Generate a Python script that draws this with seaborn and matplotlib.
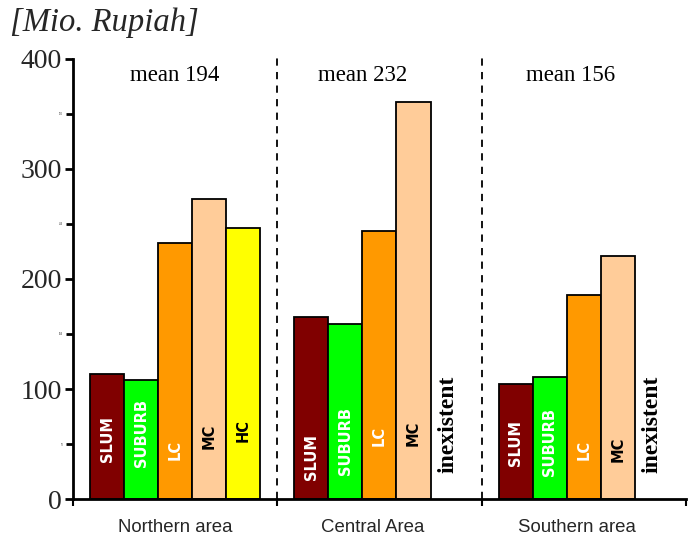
import numpy as np
import pandas as pd
import matplotlib
matplotlib.use("Agg")
import matplotlib.pyplot as plt
import seaborn as sns
from matplotlib.ticker import MultipleLocator

# Housing price by area and settlement class [Mio. Rupiah]
areas = ["Northern area", "Central Area", "Southern area"]
classes = ["SLUM", "SUBURB", "LC", "MC", "HC"]
northern = [114, 108, 233, 273, 246]
central = [165, 159, 244, 361]
southern = [105, 111, 185, 221]
means = [194, 232, 156]

colors = {"SLUM": "#800000", "SUBURB": "#00ff00", "LC": "#ff9900",
          "MC": "#ffcc99", "HC": "#ffff00"}
text_colors = {"SLUM": "white", "SUBURB": "white", "LC": "white",
               "MC": "black", "HC": "black"}

# vertical placement of the class names inside the bars
label_heights = [[55, 60, 45, 57, 62],
                 [38, 53, 57, 60],
                 [51, 52, 45, 45]]

group_vals = [northern, central, southern]
rows = []
for g, vals in enumerate(group_vals):
    for i, v in enumerate(vals):
        rows.append({"pos": g * 6 + 1 + i, "value": v, "cls": classes[i],
                     "area": areas[g], "label_y": label_heights[g][i]})
df = pd.DataFrame(rows)

sns.set_theme(style="white")
plt.rcParams["font.family"] = ["Liberation Serif", "DejaVu Sans"]

fig = plt.figure(figsize=(6.93, 5.36), dpi=100)
ax = fig.add_axes([0.1053, 0.069, 0.8845, 0.821])

sns.barplot(data=df, x="pos", y="value", hue="cls", palette=colors,
            native_scale=True, dodge=False, width=1.0, edgecolor="black",
            linewidth=1.3, legend=False, ax=ax, saturation=1)

ax.set_xlim(0, 18)
ax.set_ylim(0, 400)

for _, r in df.iterrows():
    ax.text(r["pos"], r["label_y"], r["cls"], rotation=90, ha="center", va="center",
            color=text_colors[r["cls"]], fontsize=10.5, fontweight="heavy",
            family="DejaVu Sans")

# areas without a high class
for g, vals in enumerate(group_vals):
    if len(vals) < 5:
        ax.text(g * 6 + 5, 68, "inexistent", rotation=90, ha="center", va="center",
                fontsize=17, fontweight="bold", color="black")

# group means
mean_x = [3, 8.5, 14.6]
for x, m in zip(mean_x, means):
    ax.text(x, 385, f"mean {m}", ha="center", va="center", fontsize=16.5, color="black")

# group separators
for x in [6, 12]:
    ax.plot([x, x], [0, 405], ls=(0, (4, 3.5)), color="black", lw=1.3, clip_on=False)

# axes styling
for s in ["top", "right"]:
    ax.spines[s].set_visible(False)
for s in ["left", "bottom"]:
    ax.spines[s].set_color("black")
    ax.spines[s].set_linewidth(2)

ax.set_yticks([0, 100, 200, 300, 400])
ax.set_yticklabels(["0", "100", "200", "300", "400"], fontsize=20)
ax.set_yticks([50, 150, 250, 350], minor=True)
ax.set_yticklabels(["50", "150", "250", "350"], minor=True, fontsize=2)
ax.tick_params(axis="y", which="major", direction="out", length=6, width=2, color="black", pad=2, left=True)
ax.tick_params(axis="y", which="minor", direction="out", length=5, width=2, color="black", pad=2, left=True)

ax.set_xticks([0, 6, 12, 18])
ax.set_xticklabels([])
ax.tick_params(axis="x", which="major", direction="out", length=5, width=1.5, color="black", bottom=True)
ax.set_xlabel("")
ax.set_ylabel("")

for x, name in zip([3, 8.8, 14.8], areas):
    ax.text(x, -26, name, ha="center", va="center", fontsize=13.4,
            family="Liberation Sans")

fig.text(0.015, 0.957, "[Mio. Rupiah]", fontsize=23.5, style="italic", ha="left", va="center")

fig.savefig("out.png", dpi=100)
